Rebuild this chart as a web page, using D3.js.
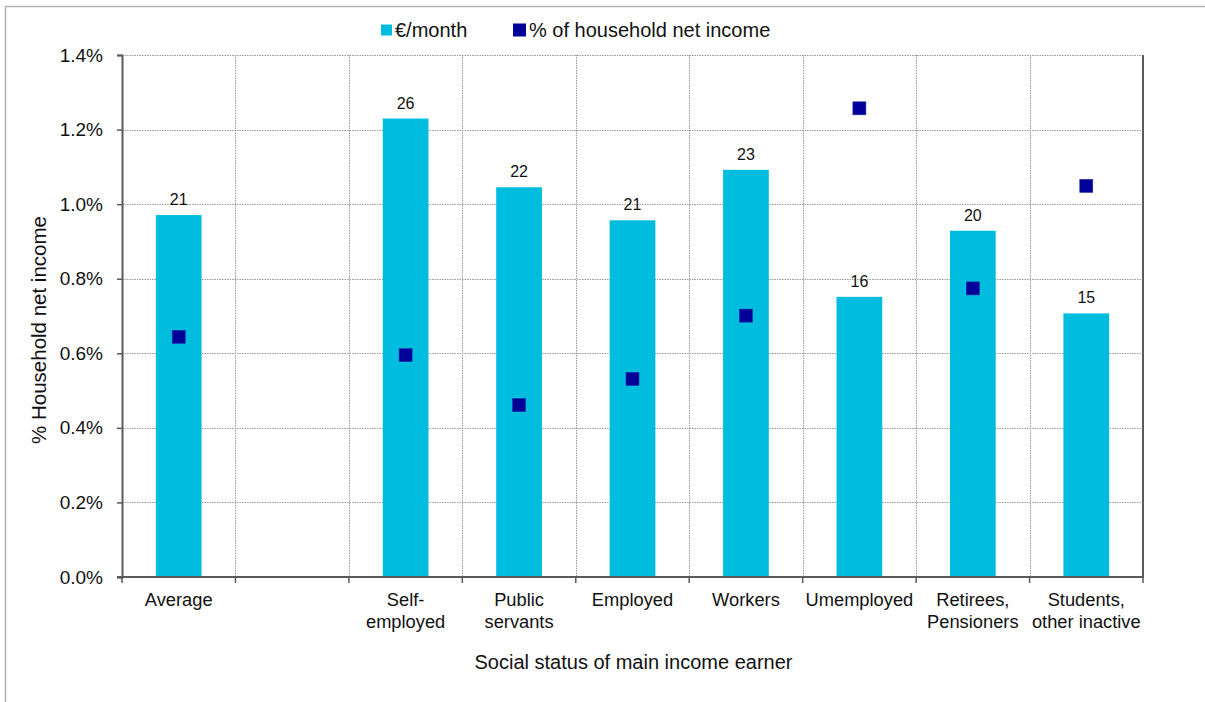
<!DOCTYPE html>
<html>
<head>
<meta charset="utf-8">
<script src="https://cdn.jsdelivr.net/npm/d3@7"></script>
<style>
  html, body { margin: 0; padding: 0; background: #fff; }
  svg { display: block; font-family: "Liberation Sans", Arial, sans-serif; }
</style>
</head>
<body>
<svg id="chart" width="1205" height="702"></svg>
<script>
// Social status of main income earner (the second slot is an intentional gap)
const categories = [
  ["Average"],
  [""],
  ["Self-", "employed"],
  ["Public", "servants"],
  ["Employed"],
  ["Workers"],
  ["Umemployed"],
  ["Retirees,", "Pensioners"],
  ["Students,", "other inactive"]
];
// €/month spent (secondary scale, 0–30 €)
const euroPerMonth = [20.8, null, 26.35, 22.4, 20.5, 23.4, 16.1, 19.9, 15.15];
// share of household net income, %
const shareOfIncome = [0.644, null, 0.595, 0.461, 0.531, 0.701, 1.257, 0.774, 1.049];
const yTicks = [0, 0.2, 0.4, 0.6, 0.8, 1.0, 1.2, 1.4];

const svg = d3.select("#chart");
const margin = { left: 122, right: 1143, top: 55, bottom: 577 };

const barColor = "#00BDE0";
const markColor = "#000099";
const gridColor = "#9a9a9a";
const axisColor = "#5a5a5a";

// outer frame
svg.append("rect")
  .attr("x", 5.5).attr("y", 6.5)
  .attr("width", 1210).attr("height", 710)
  .attr("fill", "none").attr("stroke", "#b4b4b4").attr("stroke-width", 1.5);

const idx = categories.map((d, i) => i);
const x = d3.scaleBand().domain(idx).range([margin.left, margin.right])
  .paddingInner(0.597).paddingOuter(0.2985);
const step = x.step();
const slotLeft = i => margin.left + i * step;

const y = d3.scaleLinear().domain([0, 1.4]).range([margin.bottom, margin.top]);
const yEuro = d3.scaleLinear().domain([0, 30]).range([margin.bottom, margin.top]);

// horizontal gridlines
svg.append("g").selectAll("line").data(yTicks.filter(t => t > 0)).join("line")
  .attr("x1", margin.left).attr("x2", margin.right)
  .attr("y1", d => Math.round(y(d)) + 0.5).attr("y2", d => Math.round(y(d)) + 0.5)
  .attr("stroke", gridColor).attr("stroke-width", 1).attr("stroke-dasharray", "1.5,1");

// vertical gridlines at slot boundaries
svg.append("g").selectAll("line").data(d3.range(1, categories.length)).join("line")
  .attr("x1", d => Math.round(slotLeft(d)) + 0.5).attr("x2", d => Math.round(slotLeft(d)) + 0.5)
  .attr("y1", margin.top).attr("y2", margin.bottom)
  .attr("stroke", gridColor).attr("stroke-width", 1).attr("stroke-dasharray", "1.5,1");

// bars: €/month
const barData = idx.filter(i => euroPerMonth[i] != null);
svg.append("g").selectAll("rect").data(barData).join("rect")
  .attr("x", i => x(i)).attr("width", x.bandwidth())
  .attr("y", i => yEuro(euroPerMonth[i]))
  .attr("height", i => margin.bottom - yEuro(euroPerMonth[i]))
  .attr("fill", barColor);

// bar value labels
svg.append("g").selectAll("text").data(barData).join("text")
  .attr("x", i => x(i) + x.bandwidth() / 2)
  .attr("y", i => yEuro(euroPerMonth[i]) - 10)
  .attr("text-anchor", "middle").attr("font-size", 16).attr("fill", "#111")
  .text(i => d3.format(".0f")(euroPerMonth[i]));

// markers: % of household net income
const ms = 13;
svg.append("g").selectAll("rect").data(idx.filter(i => shareOfIncome[i] != null)).join("rect")
  .attr("x", i => x(i) + x.bandwidth() / 2 - ms / 2)
  .attr("y", i => y(shareOfIncome[i]) - ms / 2)
  .attr("width", ms).attr("height", ms)
  .attr("fill", markColor).attr("stroke", "#1a33a8").attr("stroke-width", 0.6);

// left axis
const yAxis = d3.axisLeft(y).tickValues(yTicks).tickSize(5).tickPadding(14)
  .tickFormat(d => d3.format(".1f")(d) + "%");
const gy = svg.append("g").attr("transform", `translate(${margin.left},0)`).call(yAxis);
gy.select(".domain").attr("stroke", axisColor).attr("stroke-width", 2);
gy.selectAll(".tick line").attr("stroke", axisColor).attr("stroke-width", 1.5);
gy.selectAll(".tick text").attr("font-size", 19).attr("fill", "#111")
  .attr("font-family", "'Liberation Sans', Arial, sans-serif");

// right axis line (secondary scale, unlabeled)
svg.append("line")
  .attr("x1", margin.right).attr("x2", margin.right)
  .attr("y1", margin.top).attr("y2", margin.bottom)
  .attr("stroke", axisColor).attr("stroke-width", 2);

// bottom axis with ticks at slot boundaries
svg.append("line")
  .attr("x1", margin.left - 5).attr("x2", margin.right + 1)
  .attr("y1", margin.bottom).attr("y2", margin.bottom)
  .attr("stroke", axisColor).attr("stroke-width", 2);
svg.append("g").selectAll("line").data(d3.range(0, categories.length + 1)).join("line")
  .attr("x1", d => slotLeft(d)).attr("x2", d => slotLeft(d))
  .attr("y1", margin.bottom).attr("y2", margin.bottom + 6)
  .attr("stroke", axisColor).attr("stroke-width", 1.5);

// category labels
const catG = svg.append("g").selectAll("text").data(idx).join("text")
  .attr("x", i => x(i) + x.bandwidth() / 2)
  .attr("y", 606)
  .attr("text-anchor", "middle").attr("font-size", 18.3).attr("fill", "#111");
catG.selectAll("tspan").data(i => categories[i].map((t, k) => ({ t, k, i }))).join("tspan")
  .attr("x", d => x(d.i) + x.bandwidth() / 2)
  .attr("dy", d => d.k === 0 ? 0 : 22)
  .text(d => d.t);

// axis titles
svg.append("text")
  .attr("x", margin.left + (margin.right - margin.left) / 2 + 1).attr("y", 669)
  .attr("text-anchor", "middle").attr("font-size", 20).attr("fill", "#111")
  .text("Social status of main income earner");

svg.append("text")
  .attr("transform", `translate(46,330) rotate(-90)`)
  .attr("text-anchor", "middle").attr("font-size", 20.5).attr("fill", "#111")
  .text("% Household net income");

// legend
const legendItems = [
  { label: "€/month", color: barColor, x: 381, size: 11 },
  { label: "% of household net income", color: markColor, x: 513, size: 13 }
];
const lg = svg.append("g").selectAll("g").data(legendItems).join("g");
lg.append("rect")
  .attr("x", d => d.x).attr("y", d => 30 - d.size / 2)
  .attr("width", d => d.size).attr("height", d => d.size)
  .attr("fill", d => d.color);
lg.append("text")
  .attr("x", d => d.x + d.size + 3).attr("y", 37)
  .attr("font-size", 20).attr("fill", "#111")
  .text(d => d.label);
</script>
</body>
</html>
